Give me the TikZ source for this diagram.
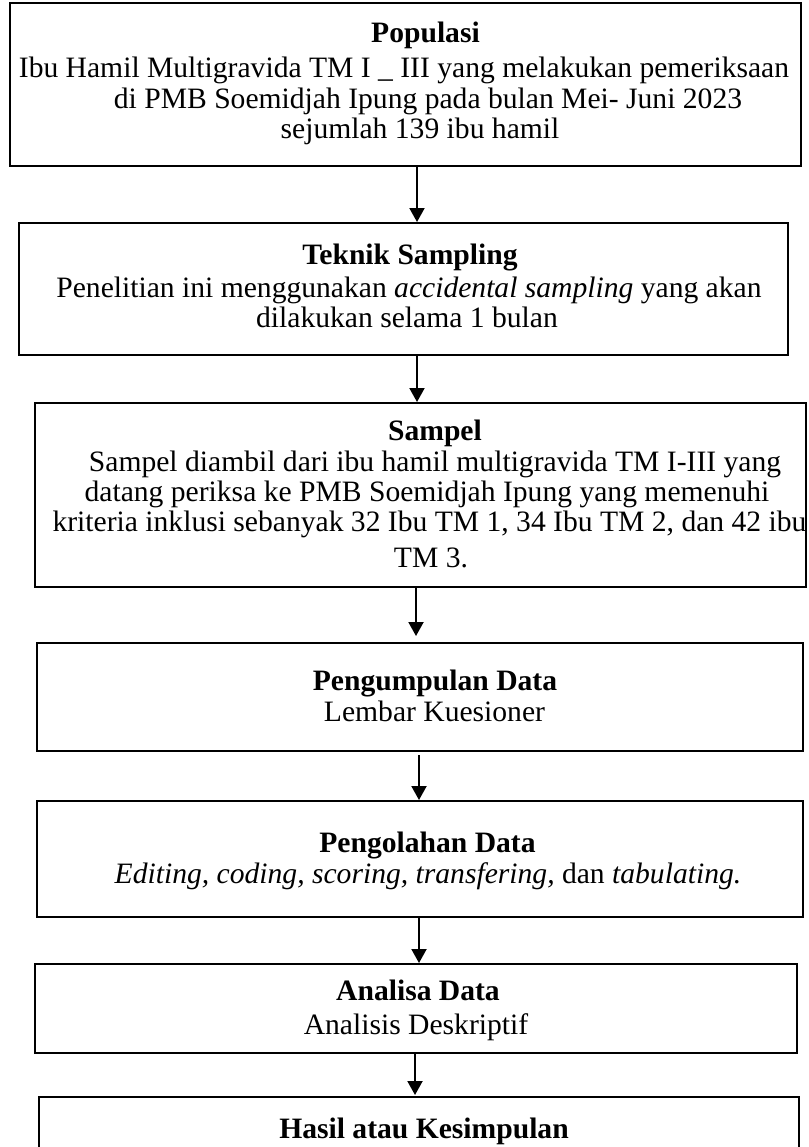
\documentclass[tikz,border=0pt]{standalone}
\usepackage{fontspec}
\setmainfont{Liberation Serif}
\usetikzlibrary{arrows.meta}
\newcommand{\sh}[2]{\hspace*{#1pt}#2}
\newcommand{\bx}[2][1.5]{\fontsize{14.8}{15.2}\selectfont\raisebox{-#1pt}[\height][\depth]{\begin{tabular}{@{}c@{}}#2\end{tabular}}}
\tikzset{
  box/.style={draw, line width=1pt, anchor=north, inner sep=0pt},
  arr/.style={line width=1pt, -{Triangle[length=7pt,width=7.5pt]}},
}
\begin{document}
\begin{tikzpicture}[x=0.5pt,y=-0.5pt]
\useasboundingbox (0,0) rectangle (809,1147);
\fill[white] (0,0) rectangle (809,1147);

\node[box, minimum width=395.5pt, minimum height=81.5pt] (b1) at (405.5,2)
 {\bx[0]{\sh{20}{\textbf{Populasi}}\\[2.5pt]
  \sh{-1.5}{Ibu Hamil Multigravida TM I \_ III yang melakukan pemeriksaan}\\
  \sh{22.5}{di PMB Soemidjah Ipung pada bulan Mei- Juni 2023}\\
  \sh{14.5}{sejumlah 139 ibu hamil}}};

\node[box, minimum width=384.5pt, minimum height=66pt] (b2) at (403.5,222)
 {\bx[0.5]{\sh{6.5}{\textbf{Teknik Sampling}}\\[1.5pt]
  \sh{5.5}{Penelitian ini menggunakan \textit{accidental sampling} yang akan}\\
  \sh{3.5}{dilakukan selama 1 bulan}}};

\node[box, minimum width=385.5pt, minimum height=92pt] (b3) at (420.5,402)
 {\bx{\sh{14.5}{\textbf{Sampel}}\\
  \sh{14.5}{Sampel diambil dari ibu hamil multigravida TM I-III yang}\\
  \sh{6.5}{datang periksa ke PMB Soemidjah Ipung yang memenuhi}\\
  \sh{9}{kriteria inklusi sebanyak 32 Ibu TM 1, 34 Ibu TM 2, dan 42 ibu}\\[2.5pt]
  \sh{10.5}{TM 3.}}};

\node[box, minimum width=383pt, minimum height=54pt] (b4) at (420,642)
 {\bx{\sh{15}{\textbf{Pengumpulan Data}}\\
  \sh{14.5}{Lembar Kuesioner}}};

\node[box, minimum width=383pt, minimum height=58pt] (b5) at (420,800)
 {\bx{\sh{7.5}{\textbf{Pengolahan Data}}\\
  \sh{8}{\textit{Editing, coding, scoring, transfering,} dan \textit{tabulating.}}}};

\node[box, minimum width=381pt, minimum height=44.5pt] (b6) at (416,963)
 {\bx{\sh{2}{\textbf{Analisa Data}}\\[1.5pt]
  Analisis Deskriptif}};

\node[box, minimum width=380pt, minimum height=32pt] (b7) at (419,1096)
 {\bx{\sh{5}{\textbf{Hasil atau Kesimpulan}}}};

\coordinate (x1) at (417,0);
\coordinate (x2) at (417,0);
\coordinate (x3) at (416,0);
\coordinate (x4) at (419,0);
\coordinate (x5) at (419,0);
\coordinate (x6) at (415,0);

\draw[arr] (b1.south -| x1) -- (b2.north -| x1);
\draw[arr] (b2.south -| x2) -- (b3.north -| x2);
\draw[arr, shorten >=3pt] (b3.south -| x3) -- (b4.north -| x3);
\draw[arr, shorten <=1.5pt] (b4.south -| x4) -- (b5.north -| x4);
\draw[arr] (b5.south -| x5) -- (b6.north -| x5);
\draw[arr, shorten >=0.5pt] (b6.south -| x6) -- (b7.north -| x6);
\end{tikzpicture}
\end{document}
